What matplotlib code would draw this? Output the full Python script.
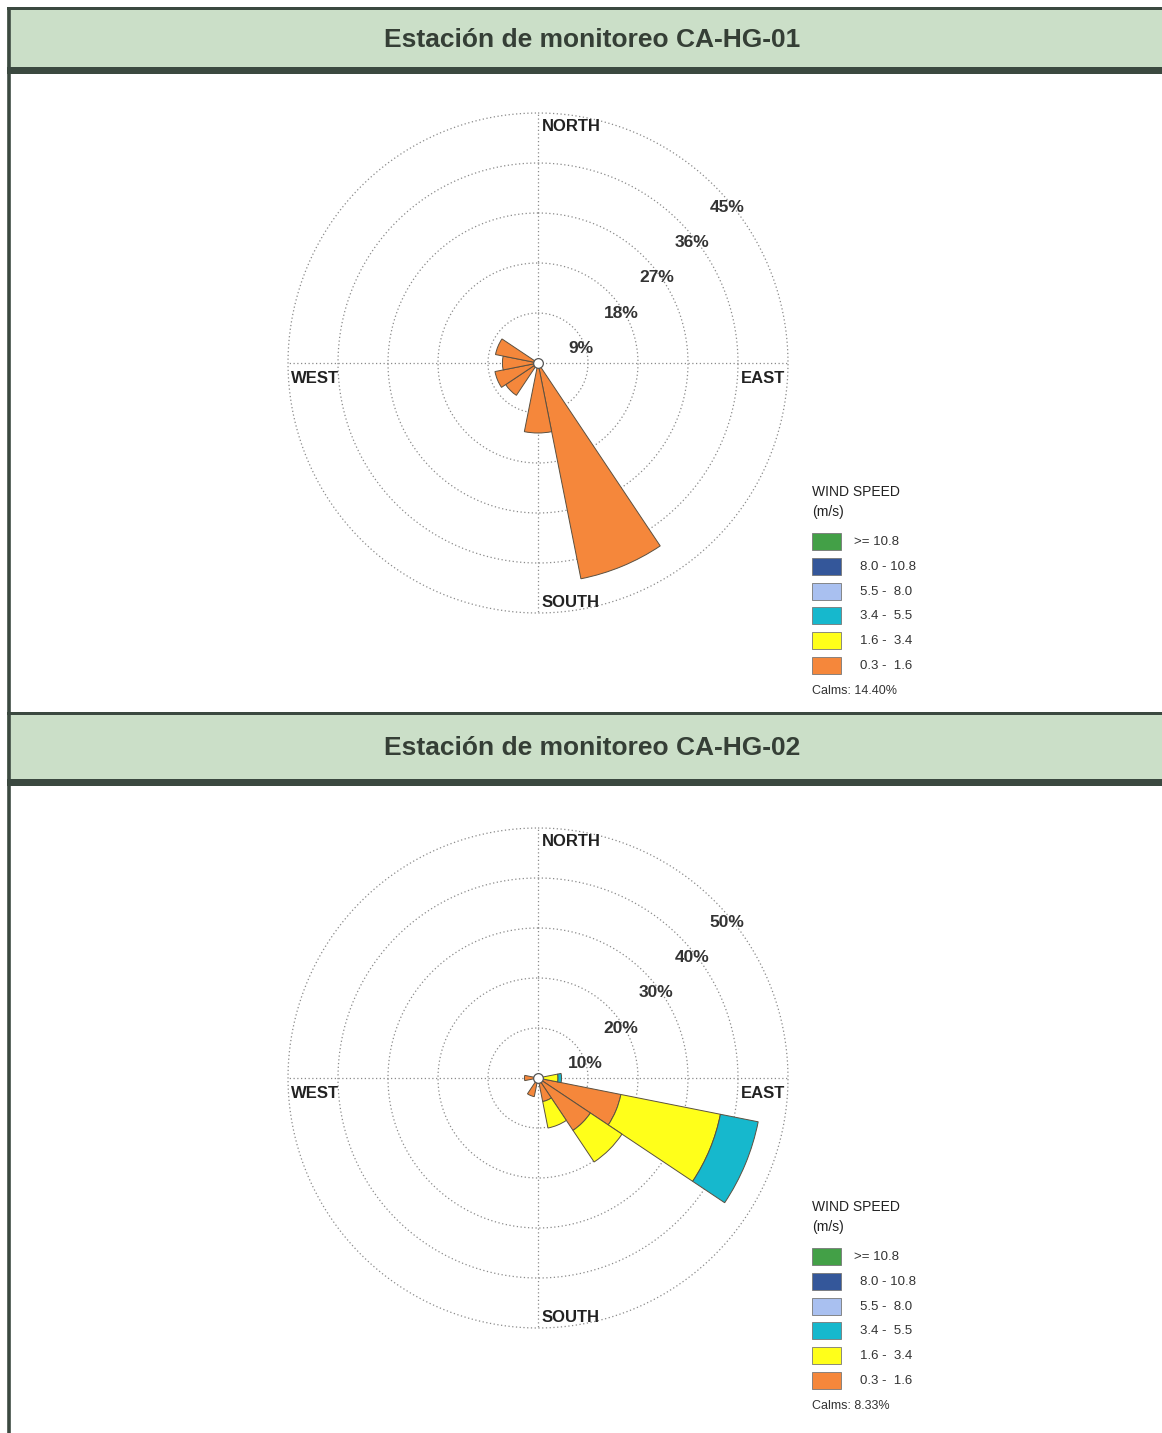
import numpy as np
import matplotlib
matplotlib.use("Agg")
import matplotlib.pyplot as plt
from matplotlib.patches import Rectangle
from matplotlib import font_manager

plt.rcParams['font.family'] = ['Liberation Sans', 'DejaVu Sans']

# ---- data ----
directions = np.arange(16) * 22.5   # N, NNE, ... NNW
bin_labels = ['>= 10.8', '8.0 - 10.8', '5.5 -  8.0', '3.4 -  5.5', '1.6 -  3.4', '0.3 -  1.6']
bin_colors = ['#43a047', '#34579a', '#a9c0f0', '#16b8cd', '#ffff1a', '#f5873b']

#            N  NNE NE ENE  E   ESE   SE   SSE   S   SSW  SW  WSW   W   WNW NW NNW
hg01_03_16 = [0, 0, 0, 0,   0,  0,    0,   39.6, 12.6, 0,  7.0, 7.9, 6.4, 7.8, 0, 0]
hg01_16_34 = [0] * 16
hg01_34_55 = [0] * 16
hg01_calms = 14.40
hg01_rings = [9, 18, 27, 36, 45]

hg02_03_16 = [0, 0, 0, 0,   1.0, 16.9, 12.6, 4.8, 0,   3.8, 0,  0,   2.7, 0,   0, 0]
hg02_16_34 = [0, 0, 0, 0,   3.0, 20.3, 7.6,  5.4, 0,   0,   0,  0,   0,   0,   0, 0]
hg02_34_55 = [0, 0, 0, 0,   0.7, 7.7,  0,    0,   0,   0,   0,  0,   0,   0,   0, 0]
hg02_calms = 8.33
hg02_rings = [10, 20, 30, 40, 50]

W, H = 1162, 1433
names = {f.name for f in font_manager.fontManager.ttflist}
if 'Liberation Sans Narrow' in names:
    title_font, title_size = 'Liberation Sans Narrow', 22
else:
    title_font, title_size = 'Liberation Sans', 19

fig = plt.figure(figsize=(W / 100, H / 100), dpi=100)
bg = fig.add_axes([0, 0, 1, 1], zorder=0)
bg.set_xlim(0, W)
bg.set_ylim(H, 0)
bg.axis('off')

dark = '#3b4940'
# left frame line
bg.plot([8.5, 8.5], [8, H], color=dark, lw=2.6, solid_capstyle='butt')


def station(title, band_top, band_bot, cy, rings, layers, calms):
    # header band
    bg.add_patch(Rectangle((7, band_top), W, band_bot - band_top, facecolor='#cbdfc8', edgecolor='none'))
    bg.add_patch(Rectangle((7, band_top), W, 3, facecolor=dark, edgecolor='none'))
    bg.add_patch(Rectangle((7, band_bot - 7), W, 7, facecolor=dark, edgecolor='none'))
    bg.text(592, (band_top + band_bot) / 2 - 1, title, ha='center', va='center',
            fontsize=title_size, fontweight='bold', color='#353f36', family=title_font)

    # wind rose
    cx, R = 538, 250
    ax = fig.add_axes([(cx - R) / W, 1 - (cy + R) / H, 2 * R / W, 2 * R / H],
                      projection='polar', zorder=2)
    ax.set_theta_zero_location('N')
    ax.set_theta_direction(-1)
    rmax = rings[-1]
    ax.set_ylim(0, rmax)
    ax.set_xticks([])
    ax.set_yticks([])
    ax.grid(False)
    ax.spines['polar'].set_visible(False)
    ax.patch.set_alpha(0)

    th = np.linspace(0, 2 * np.pi, 400)
    for r in rings:
        ax.plot(th, np.full_like(th, r), color='#8a8a8a', lw=0.9, ls=(0, (1, 2)), clip_on=False, zorder=1)
        ax.annotate(f'{r}%', xy=(np.radians(45), r), xytext=(-5, -21), textcoords='offset pixels',
                    ha='left', va='center', fontsize=12.5, fontweight='bold', color='#333333', zorder=5)
    for a in [0, 90, 180, 270]:
        ax.plot([np.radians(a)] * 2, [0, rmax], color='#8a8a8a', lw=0.9, ls=(0, (1, 2)), zorder=1)

    theta = np.radians(directions)
    width = np.radians(22.5)
    bottom = np.zeros(16)
    layer_colors = bin_colors[::-1]
    for vals, col in zip(layers, layer_colors):
        vals = np.array(vals, dtype=float)
        mask = vals > 0
        ax.bar(theta[mask], vals[mask], width=width, bottom=bottom[mask], color=col,
               edgecolor='#5b5040', linewidth=0.7, zorder=3)
        bottom += vals
    ax.plot(0, 0, marker='o', markersize=7, mfc='white', mec='#555555', mew=0.9, zorder=6, clip_on=False)

    kw = dict(transform=ax.transAxes, fontsize=12, fontweight='bold', color='#222222')
    ax.text(0.508, 0.988, 'NORTH', ha='left', va='top', **kw)
    ax.text(0.508, 0.006, 'SOUTH', ha='left', va='bottom', **kw)
    ax.text(0.006, 0.484, 'WEST', ha='left', va='top', **kw)
    ax.text(0.994, 0.484, 'EAST', ha='right', va='top', **kw)

    # legend
    lx = 812
    bg.text(lx, cy + 129, 'WIND SPEED', ha='left', va='center', fontsize=10, color='#222222')
    bg.text(lx, cy + 149, '(m/s)', ha='left', va='center', fontsize=10, color='#222222')
    for i, (lab, col) in enumerate(zip(bin_labels, bin_colors)):
        y = cy + 170 + i * 24.8
        bg.add_patch(Rectangle((lx, y), 29, 17, facecolor=col, edgecolor='#777777', lw=0.6))
        x_lab = 854 if i == 0 else 860
        bg.text(x_lab, y + 9, lab, ha='left', va='center', fontsize=9.5, color='#333333')
    bg.text(lx, cy + 328, f'Calms: {calms:.2f}%', ha='left', va='center', fontsize=9, color='#333333')


station('Estación de monitoreo CA-HG-01', 7, 74, 363, hg01_rings,
        [hg01_03_16, hg01_16_34, hg01_34_55], hg01_calms)
station('Estación de monitoreo CA-HG-02', 712, 786, 1078, hg02_rings,
        [hg02_03_16, hg02_16_34, hg02_34_55], hg02_calms)

fig.savefig('out.png', dpi=100)
